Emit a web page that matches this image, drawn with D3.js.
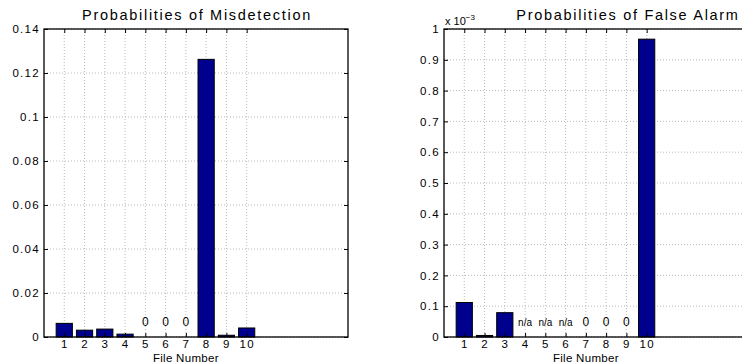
<!DOCTYPE html>
<html>
<head>
<meta charset="utf-8">
<script src="https://cdn.jsdelivr.net/npm/d3@7"></script>
<style>
  body { margin: 0; background: #fff; }
  svg { display: block; font-family: "Liberation Sans", Arial, sans-serif; }
</style>
</head>
<body>
<div id="chart"></div>
<script>
// file numbers on the x axis
var fileNumbers = [1, 2, 3, 4, 5, 6, 7, 8, 9, 10];

// probability of misdetection per file
var missValues = [0.0062, 0.0031, 0.0036, 0.0013, 0, 0, 0, 0.1262, 0.0008, 0.0041];
var missNotes = [null, null, null, null, "0", "0", "0", null, null, null];
var missTicks = [0, 0.02, 0.04, 0.06, 0.08, 0.1, 0.12, 0.14];

// probability of false alarm per file (null = not available)
var faValues = [0.112e-3, 0.005e-3, 0.079e-3, null, null, null, 0, 0, 0, 0.967e-3];
var faNotes = [null, null, null, "n/a", "n/a", "n/a", "0", "0", "0", null];
var faTicks = [0, 0.1e-3, 0.2e-3, 0.3e-3, 0.4e-3, 0.5e-3, 0.6e-3, 0.7e-3, 0.8e-3, 0.9e-3, 1e-3];

var W = 742, H = 363;
var BAR_COLOR = "#00008f";

var svg = d3.select("#chart").append("svg")
  .attr("width", W)
  .attr("height", H);

function styleLabels(a) {
  a.select(".domain").remove();
  a.selectAll("text")
    .attr("font-size", 11.5)
    .attr("letter-spacing", 1.3)
    .attr("font-family", "Liberation Sans, Arial, sans-serif")
    .attr("fill", "#000");
}

function drawPanel(opts) {
  var left = opts.left, top = 29, w = 304, h = 308;
  var g = svg.append("g").attr("transform", "translate(" + left + "," + top + ")");

  var x = d3.scaleLinear().domain([0, 15]).range([0, w]);
  var y = d3.scaleLinear().domain(opts.yDomain).range([h, 0]);

  // dotted grid
  g.append("g").selectAll("line")
    .data(opts.ticks)
    .enter().append("line")
      .attr("x1", 0).attr("x2", w)
      .attr("y1", function(d) { return y(d); })
      .attr("y2", function(d) { return y(d); })
      .attr("stroke", "#aaa")
      .attr("stroke-width", 0.8)
      .attr("stroke-dasharray", "1,2");
  g.append("g").selectAll("line")
    .data(fileNumbers)
    .enter().append("line")
      .attr("x1", function(d) { return x(d); })
      .attr("x2", function(d) { return x(d); })
      .attr("y1", 0).attr("y2", h)
      .attr("stroke", "#aaa")
      .attr("stroke-width", 0.8)
      .attr("stroke-dasharray", "1,2");

  // bars
  var bw = x(0.8) - x(0);
  var rows = fileNumbers.map(function(f, i) { return { f: f, v: opts.values[i], note: opts.notes[i] }; });
  g.append("g").selectAll("rect")
    .data(rows.filter(function(d) { return d.v !== null; }))
    .enter().append("rect")
      .attr("x", function(d) { return x(d.f) - bw / 2; })
      .attr("y", function(d) { return y(d.v); })
      .attr("width", bw)
      .attr("height", function(d) { return y(0) - y(d.v); })
      .attr("fill", BAR_COLOR)
      .attr("stroke", "#000")
      .attr("stroke-width", 1);

  // notes above empty bars
  g.append("g").selectAll("text")
    .data(rows.filter(function(d) { return d.note; }))
    .enter().append("text")
      .attr("x", function(d) { return x(d.f); })
      .attr("y", h - 11)
      .attr("text-anchor", "middle")
      .attr("font-size", function(d) { return d.note === "n/a" ? 10 : 12; })
      .text(function(d) { return d.note; });

  // axes, ticks inward
  var xAxis = d3.axisBottom(x).tickValues(fileNumbers).tickSize(-4).tickPadding(3);
  var yAxis = d3.axisLeft(y).tickValues(opts.ticks).tickSize(-4).tickPadding(4)
    .tickFormat(opts.format);

  g.append("g").attr("transform", "translate(0," + h + ")").call(xAxis).call(styleLabels);
  g.append("g").call(d3.axisTop(x).tickValues(fileNumbers).tickSize(-4).tickFormat(""))
    .call(function(a) { a.select(".domain").remove(); });
  g.append("g").call(yAxis).call(styleLabels);
  g.append("g").attr("transform", "translate(" + w + ",0)")
    .call(d3.axisRight(y).tickValues(opts.ticks).tickSize(-4).tickFormat(""))
    .call(function(a) { a.select(".domain").remove(); });

  // frame
  g.append("rect")
    .attr("x", 0).attr("y", 0)
    .attr("width", w).attr("height", h)
    .attr("fill", "none")
    .attr("stroke", "#000")
    .attr("stroke-width", 1.3);

  // title and x label
  svg.append("text")
    .attr("x", opts.titleX)
    .attr("y", 20)
    .attr("text-anchor", "middle")
    .attr("font-size", 14.5)
    .attr("letter-spacing", 1.7)
    .text(opts.title);
  svg.append("text")
    .attr("x", left + x(7))
    .attr("y", 362)
    .attr("text-anchor", "middle")
    .attr("font-size", 11.5)
    .attr("letter-spacing", 0.3)
    .text("File Number");

  return g;
}

drawPanel({
  left: 44,
  values: missValues,
  notes: missNotes,
  ticks: missTicks,
  yDomain: [0, 0.14],
  format: function(d) { return String(+d.toFixed(2)); },
  title: "Probabilities of Misdetection",
  titleX: 197
});

drawPanel({
  left: 444,
  values: faValues,
  notes: faNotes,
  ticks: faTicks,
  yDomain: [0, 1e-3],
  format: function(d) { return String(+(d * 1e3).toFixed(1)); },
  title: "Probabilities of False Alarm",
  titleX: 628
});

// exponent marker of the right panel
var expo = svg.append("text")
  .attr("x", 445)
  .attr("y", 25)
  .attr("font-size", 11);
expo.append("tspan").text("x 10");
expo.append("tspan").attr("dy", -5).attr("font-size", 8).text("\u22123");
</script>
</body>
</html>
